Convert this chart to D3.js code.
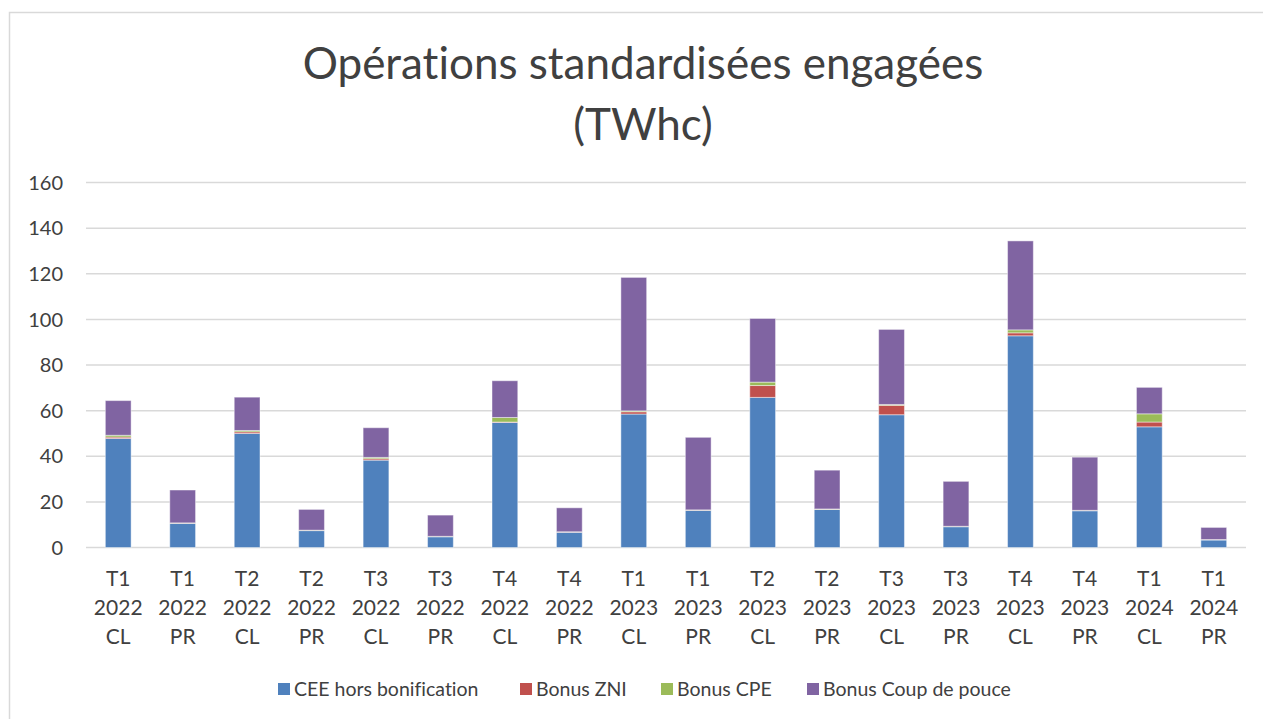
<!DOCTYPE html>
<html><head><meta charset="utf-8">
<script src="https://cdn.jsdelivr.net/npm/d3@7"></script>
<style>body{margin:0;background:#fff}svg{display:block}text{font-family:Lato,"Open Sans",sans-serif;fill:#404040;font-variant-ligatures:none;font-feature-settings:"liga" 0}</style>
</head><body>
<script>
const categories = [
  ["T1","2022","CL"],["T1","2022","PR"],["T2","2022","CL"],["T2","2022","PR"],
  ["T3","2022","CL"],["T3","2022","PR"],["T4","2022","CL"],["T4","2022","PR"],
  ["T1","2023","CL"],["T1","2023","PR"],["T2","2023","CL"],["T2","2023","PR"],
  ["T3","2023","CL"],["T3","2023","PR"],["T4","2023","CL"],["T4","2023","PR"],
  ["T1","2024","CL"],["T1","2024","PR"]
];
const ceeHorsBonif = [47.8,10.6,50.0,7.4,38.3,4.7,54.8,6.7,58.5,16.3,65.8,16.7,58.2,9.1,92.8,16.1,52.9,3.3];
const bonusZNI     = [0.6,0.1,0.7,0.1,0.6,0.1,0.2,0.1,1.0,0.1,5.2,0.1,4.1,0.1,1.3,0.1,2.1,0.1];
const bonusCPE     = [0.8,0.1,0.6,0.1,0.6,0.1,2.0,0.1,0.4,0.1,1.5,0.1,0.4,0.1,1.3,0.1,3.6,0.1];
const bonusCdP     = [15.2,14.4,14.6,9.1,13.0,9.3,16.1,10.5,58.5,31.8,27.9,17.0,32.9,19.7,39.0,23.3,11.6,5.3];
const seriesNames  = ["CEE hors bonification","Bonus ZNI","Bonus CPE","Bonus Coup de pouce"];
const seriesColors = ["#4F81BD","#C0504D","#9BBB59","#8064A2"];
const yTicks = [0,20,40,60,80,100,120,140,160];
const titleLines = ["Opérations standardisées engagées","(TWhc)"];

const W=1263,H=719;
const svg=d3.select("body").append("svg").attr("width",W).attr("height",H);
svg.append("rect").attr("x",9.5).attr("y",12.5).attr("width",1300).attr("height",800)
  .attr("fill","#fff").attr("stroke","#d9d9d9").attr("stroke-width",1.5);

const x=d3.scaleBand().domain(d3.range(categories.length)).range([86,1246]).paddingInner(0.6).paddingOuter(0.3);
const y=d3.scaleLinear().domain([0,160]).range([547.5,182.5]);

// title
svg.append("g").selectAll("text").data(titleLines).join("text")
  .attr("x",643).attr("y",(d,i)=>79+i*61).attr("text-anchor","middle")
  .style("font-size","44px").text(d=>d);

// gridlines
svg.append("g").selectAll("line").data(yTicks).join("line")
  .attr("x1",86).attr("x2",1246).attr("y1",d=>y(d)).attr("y2",d=>y(d))
  .attr("stroke","#d9d9d9").attr("stroke-width",1.5);
svg.append("g").selectAll("text").data(yTicks).join("text")
  .attr("x",63).attr("y",d=>y(d)).attr("dy","0.36em").attr("text-anchor","end")
  .style("font-size","20px").text(d=>d);

// stacks
const rows=categories.map((c,i)=>({i,s0:ceeHorsBonif[i],s1:bonusZNI[i],s2:bonusCPE[i],s3:bonusCdP[i]}));
const stack=d3.stack().keys(["s0","s1","s2","s3"])(rows);
svg.append("g").selectAll("g").data(stack).join("g").attr("fill",(d,i)=>seriesColors[i])
  .selectAll("rect").data(d=>d).join("rect")
  .attr("x",d=>x(d.data.i)).attr("width",x.bandwidth())
  .attr("y",d=>y(d[1])).attr("height",d=>y(d[0])-y(d[1]))
  .attr("stroke","#ffffff").attr("stroke-opacity",0.45).attr("stroke-width",1);

// x labels
const xl=svg.append("g").selectAll("text").data(categories).join("text")
  .attr("text-anchor","middle").style("font-size","21px");
xl.selectAll("tspan").data((d,i)=>d.map(t=>({t,i}))).join("tspan")
  .attr("x",d=>x(d.i)+x.bandwidth()/2).attr("y",(d,j)=>586+j*29).text(d=>d.t);

// legend
const lx=[278,520,661,807];
const lg=svg.append("g").selectAll("g").data(seriesNames).join("g")
  .attr("transform",(d,i)=>`translate(${lx[i]},0)`);
lg.append("rect").attr("x",0).attr("y",683).attr("width",12).attr("height",12).attr("fill",(d,i)=>seriesColors[i]);
lg.append("text").attr("x",16).attr("y",696).style("font-size","19.5px").text(d=>d);
</script>
</body></html>
